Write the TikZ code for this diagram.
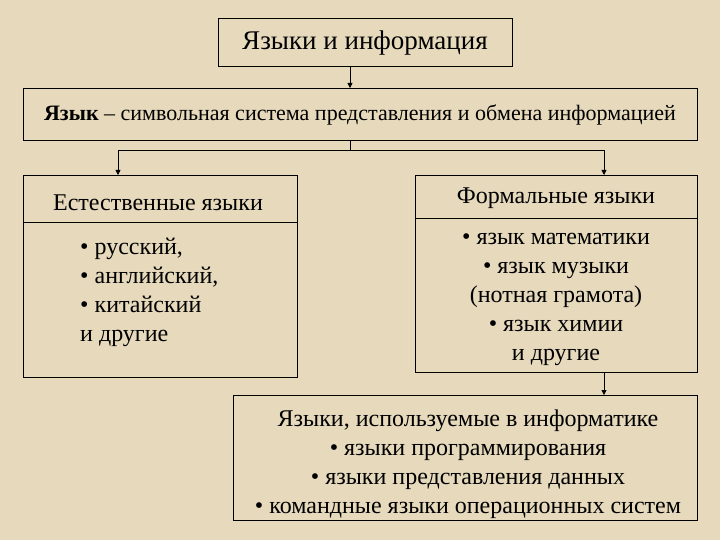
\documentclass[tikz,border=0pt]{standalone}
\usepackage{fontspec}
\setmainfont{Liberation Serif}
\usetikzlibrary{arrows.meta}
\definecolor{parch}{HTML}{E6D9BC}
\begin{document}
\begin{tikzpicture}[x=1pt,y=-1pt,
  box/.style={draw=black,line width=0.8pt},
  arr/.style={-{Triangle[length=5pt,width=5pt]},line width=0.8pt},
  txt/.style={font=\fontsize{24}{29}\selectfont,align=center,inner sep=0pt}]
\fill[parch] (0,0) rectangle (720,540);
\useasboundingbox (0,0) rectangle (720,540);
% boxes
\draw[box] (218,18) rectangle (512,66);
\node[txt,font=\fontsize{27}{30}\selectfont] (t) at (365,43) {Языки и информация};
\coordinate (tb) at (350,66);
\draw[box] (23,88) rectangle (697,140);
\node[txt,font=\fontsize{22}{26}\selectfont] (l) at (360,115) {\textbf{Язык} – символьная система представления и обмена информацией};
\coordinate (lt) at (350,88);
\coordinate (lb) at (350,140);
\coordinate (lj) at (350,150);
\draw[box] (23,175) rectangle (297,377);
\draw[box] (23,222) -- (297,222);
\node[txt] (nh) at (158,203) {Естественные языки};
\node[txt,align=left,anchor=north west] (nl) at (80,238) {• русский,\\• английский,\\• китайский\\и другие};
\coordinate (nt) at (118,175);
\draw[box] (415,175) rectangle (697,372);
\draw[box] (415,218) -- (697,218);
\node[txt] (fh) at (556,198) {Формальные языки};
\node[txt,anchor=north] (fl) at (556,233) {• язык математики\\• язык музыки\\(нотная грамота)\\• язык химии\\и другие};
\coordinate (ft) at (604,175);
\coordinate (fb) at (604,372);
\draw[box] (233,395) rectangle (697,520);
\node[txt,anchor=north] (il) at (468,410) {Языки, используемые в информатике\\• языки программирования\\• языки представления данных\\• командные языки операционных систем};
\coordinate (it) at (604,395);
% connectors
\draw[arr] (tb) -- (lt);
\draw[line width=0.8pt] (lb) -- (lj);
\draw[arr] (lj) -| (nt);
\draw[arr] (lj) -| (ft);
\draw[arr] (fb) -- (it);
\end{tikzpicture}
\end{document}
